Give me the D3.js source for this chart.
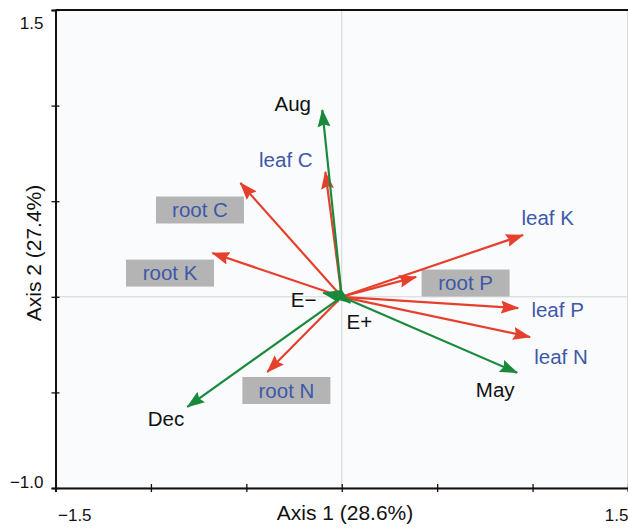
<!DOCTYPE html>
<html>
<head>
<meta charset="utf-8">
<script src="https://cdn.jsdelivr.net/npm/d3@7"></script>
<style>
  body { margin: 0; background: #fff; }
  text { font-family: "Liberation Sans", Arial, sans-serif; }
</style>
</head>
<body>
<div id="plot-container"></div>
<script>
// ##################################
//  DATA
// ##################################

// Nutrient vectors (red): name, tip, label centre, has grey box
const nutrientNames = ["leaf C", "root C", "root K", "leaf K", "root P", "leaf P", "leaf N", "root N"]
const nutrientX = [-0.086, -0.531, -0.678, 0.95, 0.39, 0.924, 0.987, -0.39]
const nutrientY = [0.653, 0.595, 0.229, 0.323, 0.104, -0.059, -0.21, -0.393]
const nutrientLabelX = [-0.293, -0.743, -0.9, 1.079, 0.649, 1.131, 1.149, -0.29]
const nutrientLabelY = [0.715, 0.454, 0.124, 0.412, 0.072, -0.066, -0.312, -0.49]
const nutrientBoxed = [false, true, true, false, true, false, false, true]

// Environmental vectors (green)
const envNames = ["Aug", "May", "Dec", "E\u2212", "E+"]
const envX = [-0.102, 0.919, -0.809, -0.097, 0.045]
const envY = [0.977, -0.397, -0.576, 0.02, -0.032]
const envLabelX = [-0.257, 0.804, -0.921, -0.2, 0.092]
const envLabelY = [1.011, -0.487, -0.636, -0.015, -0.13]

const xDomain = [-1.5, 1.5]
const yDomain = [-1.0, 1.5]
const xTicks = [-1.5, -1.0, -0.5, 0, 0.5, 1.0, 1.5]
const yTicks = [-1.0, -0.5, 0, 0.5, 1.0, 1.5]
const xTitle = "Axis 1 (28.6%)"
const yTitle = "Axis 2 (27.4%)"

// ##################################
//  CONSTANTS
// ##################################
const width = 628
const height = 528
const margin = { top: 10, right: 0, bottom: 40, left: 55.5 }
const red = "#e6402d"
const green = "#198a3c"
const blue = "#3e58a8"

const x = d3.scaleLinear().domain(xDomain).range([margin.left, width - margin.right])
const y = d3.scaleLinear().domain(yDomain).range([height - margin.bottom, margin.top])

const fmt = (d) => d3.format(".1f")(d).replace("-", "\u2212")

const svg = d3
  .select("div#plot-container")
  .append("svg")
  .attr("width", width)
  .attr("height", height)

// plot background
svg
  .append("rect")
  .attr("x", x(-1.5))
  .attr("y", y(1.5))
  .attr("width", x(1.5) - x(-1.5))
  .attr("height", y(-1.0) - y(1.5))
  .attr("fill", "#fafbfd")
  .attr("stroke", "#c9b9ad")
  .attr("stroke-width", 1)

// zero lines
svg
  .append("line")
  .attr("x1", x(0)).attr("x2", x(0))
  .attr("y1", y(1.5)).attr("y2", y(-1.0))
  .attr("stroke", "#d4d4d4")
svg
  .append("line")
  .attr("x1", x(-1.5)).attr("x2", x(1.5))
  .attr("y1", y(0)).attr("y2", y(0))
  .attr("stroke", "#d4d4d4")

// top border
svg
  .append("line")
  .attr("x1", x(-1.5)).attr("x2", x(1.5))
  .attr("y1", y(1.5)).attr("y2", y(1.5))
  .attr("stroke", "#111")
  .attr("stroke-width", 2)

// ##################################
//  AXES
// ##################################
const xAxis = (g) =>
  g
    .attr("transform", `translate(0, ${y(-1.0)})`)
    .call(
      d3.axisBottom(x)
        .tickValues(xTicks)
        .tickSize(4)
        .tickFormat((d) => (d === -1.5 || d === 1.5 ? fmt(d) : ""))
    )
    .call((g) => g.select(".domain").attr("stroke", "#111").attr("stroke-width", 2))
    .call((g) => g.selectAll(".tick line").attr("y1", -4).attr("stroke", "#111").attr("stroke-width", 1.3))
    .call((g) =>
      g.selectAll(".tick text")
        .attr("font-size", 17)
        .attr("fill", "#111")
        .attr("y", 21)
        .attr("text-anchor", (d) => (d === -1.5 ? "start" : "end"))
        .attr("dx", (d) => (d === -1.5 ? 2 : 0))
    )

const yAxis = (g) =>
  g
    .attr("transform", `translate(${x(-1.5)}, 0)`)
    .call(
      d3.axisLeft(y)
        .tickValues(yTicks)
        .tickSize(4)
        .tickFormat((d) => (d === -1.0 || d === 1.5 ? fmt(d) : ""))
    )
    .call((g) => g.select(".domain").attr("stroke", "#111").attr("stroke-width", 2))
    .call((g) => g.selectAll(".tick line").attr("x1", 4).attr("x2", -4).attr("stroke", "#111").attr("stroke-width", 1.3))
    .call((g) =>
      g.selectAll(".tick text")
        .attr("font-size", 17)
        .attr("fill", "#111")
        .attr("x", -12)
        .attr("dy", (d) => (d === 1.5 ? "1.1em" : "-0.05em"))
    )

svg.append("g").call(xAxis)
svg.append("g").call(yAxis)

svg
  .append("text")
  .attr("x", 345)
  .attr("y", 520)
  .attr("text-anchor", "middle")
  .attr("font-size", 21)
  .attr("fill", "#111")
  .text(xTitle)

svg
  .append("text")
  .attr("transform", `translate(41, ${253}) rotate(-90)`)
  .attr("text-anchor", "middle")
  .attr("font-size", 21)
  .attr("fill", "#111")
  .text(yTitle)

// ##################################
//  ARROWS
// ##################################
const defs = svg.append("defs")
const addMarker = (id, color) =>
  defs
    .append("marker")
    .attr("id", id)
    .attr("markerUnits", "userSpaceOnUse")
    .attr("viewBox", "0 0 18 14")
    .attr("refX", 17)
    .attr("refY", 7)
    .attr("markerWidth", 18)
    .attr("markerHeight", 14)
    .attr("orient", "auto")
    .append("path")
    .attr("d", "M0,0.5 L18,7 L0,13.5 L2.5,7 Z")
    .attr("fill", color)

addMarker("head-red", red)
addMarker("head-green", green)

const nutrients = nutrientNames.map((name, i) => ({
  name,
  x: nutrientX[i],
  y: nutrientY[i],
  lx: nutrientLabelX[i],
  ly: nutrientLabelY[i],
  boxed: nutrientBoxed[i],
}))

const envs = envNames.map((name, i) => ({
  name,
  x: envX[i],
  y: envY[i],
  lx: envLabelX[i],
  ly: envLabelY[i],
}))

// grey boxes behind boxed labels
const labelG = svg.append("g")

svg
  .append("g")
  .attr("stroke", red)
  .attr("stroke-width", 2.2)
  .selectAll("line")
  .data(nutrients)
  .join("line")
  .attr("x1", x(0))
  .attr("y1", y(0))
  .attr("x2", (d) => x(d.x))
  .attr("y2", (d) => y(d.y))
  .attr("marker-end", "url(#head-red)")

svg
  .append("g")
  .attr("stroke", green)
  .attr("stroke-width", 2.2)
  .selectAll("line")
  .data(envs)
  .join("line")
  .attr("x1", x(0))
  .attr("y1", y(0))
  .attr("x2", (d) => x(d.x))
  .attr("y2", (d) => y(d.y))
  .attr("marker-end", "url(#head-green)")

// nutrient labels
const nl = labelG
  .selectAll("g")
  .data(nutrients)
  .join("g")
  .attr("transform", (d) => `translate(${x(d.lx)}, ${y(d.ly)})`)

nl.filter((d) => d.boxed)
  .append("rect")
  .attr("x", -44)
  .attr("y", -13.5)
  .attr("width", 88)
  .attr("height", 27)
  .attr("fill", "#b4b4b4")

nl.append("text")
  .attr("text-anchor", "middle")
  .attr("dy", "0.36em")
  .attr("font-size", 20.5)
  .attr("fill", blue)
  .text((d) => d.name)

// environment labels
svg
  .append("g")
  .selectAll("text")
  .data(envs)
  .join("text")
  .attr("x", (d) => x(d.lx))
  .attr("y", (d) => y(d.ly))
  .attr("text-anchor", "middle")
  .attr("dy", "0.36em")
  .attr("font-size", 20.5)
  .attr("fill", "#111")
  .text((d) => d.name)
</script>
</body>
</html>
